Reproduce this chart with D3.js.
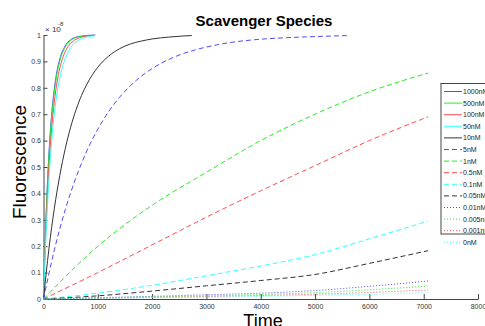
<!DOCTYPE html>
<html>
<head>
<meta charset="utf-8">
<script src="https://cdn.jsdelivr.net/npm/d3@7/dist/d3.min.js"></script>
<style>
  body { margin: 0; background: #fff; }
  svg { display: block; font-family: "Liberation Sans", Arial, sans-serif; }
</style>
</head>
<body>
<div id="chart"></div>
<script>
// series names, in legend order
var names = ['1000nM', '500nM', '100nM', '50nM', '10nM', '5nM', '1nM', '0.5nM',
             '0.1nM', '0.05nM', '0.01nM', '0.005nM', '0.001nM', '0nM'];

// time samples (s) for the fast curves and the slow curves
var tFast = [0, 25, 50, 75, 100, 150, 200, 250, 300, 400, 500, 600, 700, 950];
var t10   = [0, 100, 200, 300, 400, 500, 600, 700, 800, 1000, 1200, 1400, 1600, 1800, 2000, 2300, 2730];
var t5    = [0, 200, 400, 600, 800, 1000, 1200, 1400, 1600, 1800, 2000, 2400, 2800, 3200, 3600, 4000, 4500, 5000, 5640];
var tSlow = [0, 1000, 2000, 3000, 4000, 5000, 6000, 7080];

// fluorescence values, in units of 1e-8
var v1000 = [0, 0.181, 0.330, 0.451, 0.551, 0.699, 0.798, 0.865, 0.909, 0.959, 0.982, 0.992, 0.996, 1.0];
var v500  = [0, 0.175, 0.319, 0.438, 0.537, 0.685, 0.785, 0.854, 0.901, 0.954, 0.979, 0.990, 0.995, 0.999];
var v100  = [0, 0.158, 0.292, 0.404, 0.498, 0.645, 0.748, 0.822, 0.874, 0.937, 0.968, 0.984, 0.992, 0.999];
var v50   = [0, 0.141, 0.261, 0.365, 0.455, 0.597, 0.702, 0.780, 0.838, 0.911, 0.952, 0.974, 0.986, 0.997];
var v10   = [0, 0.19, 0.344, 0.468, 0.569, 0.651, 0.717, 0.771, 0.814, 0.878, 0.920, 0.948, 0.966, 0.977, 0.985, 0.992, 0.998];
var v5    = [0, 0.186, 0.338, 0.461, 0.562, 0.643, 0.710, 0.764, 0.808, 0.844, 0.873, 0.916, 0.944, 0.963, 0.976, 0.984, 0.990, 0.994, 0.998];
var v1    = [0, 0.20, 0.355, 0.48, 0.60, 0.70, 0.785, 0.856];
var v05   = [0, 0.10, 0.205, 0.31, 0.41, 0.505, 0.60, 0.69];
var v01   = [0, 0.022, 0.052, 0.088, 0.125, 0.168, 0.228, 0.295];
var v005  = [0, 0.012, 0.03, 0.05, 0.07, 0.093, 0.135, 0.183];
var v001  = [0, 0.005, 0.01, 0.016, 0.022, 0.032, 0.048, 0.068];
var v0005 = [0, 0.004, 0.008, 0.012, 0.017, 0.024, 0.035, 0.049];
var v0001 = [0, 0.003, 0.006, 0.009, 0.013, 0.018, 0.025, 0.034];
var v0    = [0, 0.003, 0.005, 0.007, 0.010, 0.014, 0.018, 0.024];

var xTicks = [0, 1000, 2000, 3000, 4000, 5000, 6000, 7000, 8000];
var yTicks = [0, 0.1, 0.2, 0.3, 0.4, 0.5, 0.6, 0.7, 0.8, 0.9, 1];

var colors = { b: '#4d4dff', g: '#22ee22', r: '#ff4d4d', c: '#33ffff', k: '#333333' };
var dashes = { solid: null, dash: '5,3', dot: '1,2' };

var series = [
  { name: names[0],  t: tFast, v: v1000, c: 'b', s: 'solid' },
  { name: names[1],  t: tFast, v: v500,  c: 'g', s: 'solid' },
  { name: names[2],  t: tFast, v: v100,  c: 'r', s: 'solid' },
  { name: names[3],  t: tFast, v: v50,   c: 'c', s: 'solid' },
  { name: names[4],  t: t10,   v: v10,   c: 'k', s: 'solid' },
  { name: names[5],  t: t5,    v: v5,    c: 'b', s: 'dash' },
  { name: names[6],  t: tSlow, v: v1,    c: 'g', s: 'dash' },
  { name: names[7],  t: tSlow, v: v05,   c: 'r', s: 'dash' },
  { name: names[8],  t: tSlow, v: v01,   c: 'c', s: 'dash' },
  { name: names[9],  t: tSlow, v: v005,  c: 'k', s: 'dash' },
  { name: names[10], t: tSlow, v: v001,  c: 'b', s: 'dot' },
  { name: names[11], t: tSlow, v: v0005, c: 'g', s: 'dot' },
  { name: names[12], t: tSlow, v: v0001, c: 'r', s: 'dot' },
  { name: names[13], t: tSlow, v: v0,    c: 'c', s: 'dot' }
];

var W = 485, H = 326;
var svg = d3.select('#chart').append('svg').attr('width', W).attr('height', H);

var x = d3.scaleLinear().domain([0, 8000]).range([43.5, 478]);
var y = d3.scaleLinear().domain([0, 1]).range([299, 35]);

// axes, ticks pointing inward like matlab
var xAxis = svg.append('g').attr('transform', 'translate(0,299)')
  .call(d3.axisBottom(x).tickValues(xTicks).tickSizeInner(-5).tickSizeOuter(0).tickPadding(5)
    .tickFormat(d3.format('d')));
var yAxis = svg.append('g').attr('transform', 'translate(43.5,0)')
  .call(d3.axisLeft(y).tickValues(yTicks).tickSizeInner(-4).tickSizeOuter(0).tickPadding(2.5)
    .tickFormat(function(d) { return d === 0 || d === 1 ? d : d3.format('.1f')(d); }));
[xAxis, yAxis].forEach(function(a) {
  a.select('.domain').attr('stroke', '#444');
  a.selectAll('.tick line').attr('stroke', '#444');
  a.selectAll('.tick text').attr('fill', '#333').style('font-size', '7px');
});

// exponent label
svg.append('text').attr('x', 45).attr('y', 32).attr('fill', '#333')
  .style('font-size', '8px').text('\u00d7 10');
svg.append('text').attr('x', 58).attr('y', 26).attr('fill', '#333')
  .style('font-size', '6px').text('-8');

var line = d3.line()
  .x(function(d) { return x(d[0]); })
  .y(function(d) { return y(d[1]); })
  .curve(d3.curveMonotoneX);

svg.append('g').selectAll('path')
  .data(series)
  .enter().append('path')
    .attr('d', function(s) { return line(d3.zip(s.t, s.v)); })
    .attr('fill', 'none')
    .attr('stroke', function(s) { return colors[s.c]; })
    .attr('stroke-width', 1)
    .attr('stroke-dasharray', function(s) { return dashes[s.s]; });

// titles
svg.append('text').attr('x', 264).attr('y', 26).attr('text-anchor', 'middle')
  .style('font-size', '15px').style('font-weight', 'bold').text('Scavenger Species');
svg.append('text').attr('x', 263).attr('y', 327).attr('text-anchor', 'middle')
  .style('font-size', '18px').text('Time');
svg.append('text').attr('transform', 'translate(26,162) rotate(-90)').attr('text-anchor', 'middle')
  .style('font-size', '19px').text('Fluorescence');

// legend
var leg = svg.append('g').attr('transform', 'translate(441,83.5)');
leg.append('rect').attr('width', 50).attr('height', 150.5)
  .attr('fill', '#fff').attr('stroke', '#444');
var row = leg.selectAll('g.row').data(series).enter().append('g')
  .attr('transform', function(s, i) { return 'translate(0,' + (8 + i * 11.6) + ')'; });
row.append('line').attr('x1', 3).attr('x2', 21).attr('y1', 0).attr('y2', 0)
  .attr('stroke', function(s) { return colors[s.c]; })
  .attr('stroke-dasharray', function(s) { return dashes[s.s]; });
row.append('text').attr('x', 22).attr('y', 2.5).attr('fill', '#222')
  .style('font-size', '7px').text(function(s) { return s.name; });
</script>
</body>
</html>
